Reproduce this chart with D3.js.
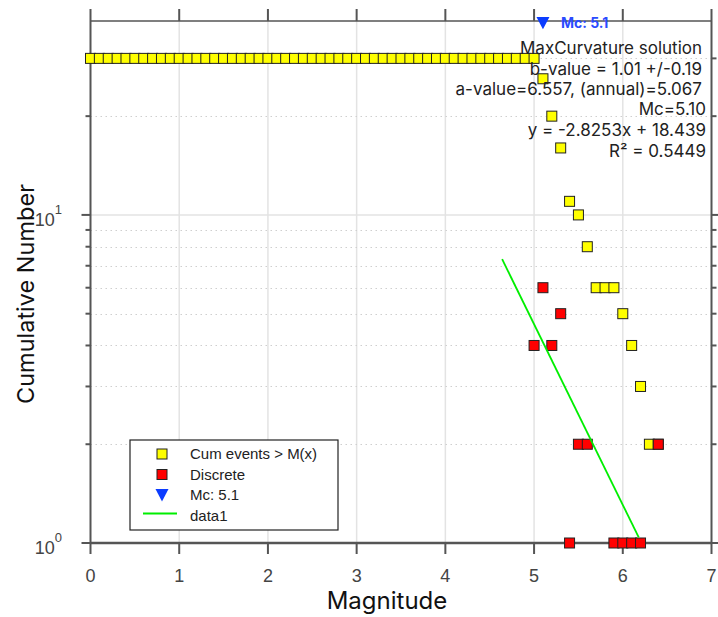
<!DOCTYPE html>
<html>
<head>
<meta charset="utf-8">
<script src="https://cdn.jsdelivr.net/npm/d3@7"></script>
<style>
  body { margin: 0; background: #fff; }
  svg { display: block; }
</style>
</head>
<body>
<div id="container"></div>
<script>
// cumulative number of events with magnitude >= M
const cumMag = [0.0, 0.1, 0.2, 0.3, 0.4, 0.5, 0.6, 0.7, 0.8, 0.9,
  1.0, 1.1, 1.2, 1.3, 1.4, 1.5, 1.6, 1.7, 1.8, 1.9,
  2.0, 2.1, 2.2, 2.3, 2.4, 2.5, 2.6, 2.7, 2.8, 2.9,
  3.0, 3.1, 3.2, 3.3, 3.4, 3.5, 3.6, 3.7, 3.8, 3.9,
  4.0, 4.1, 4.2, 4.3, 4.4, 4.5, 4.6, 4.7, 4.8, 4.9,
  5.0, 5.1, 5.2, 5.3, 5.4, 5.5, 5.6, 5.7, 5.8, 5.9,
  6.0, 6.1, 6.2, 6.3, 6.4];
const cumN = [30, 30, 30, 30, 30, 30, 30, 30, 30, 30,
  30, 30, 30, 30, 30, 30, 30, 30, 30, 30,
  30, 30, 30, 30, 30, 30, 30, 30, 30, 30,
  30, 30, 30, 30, 30, 30, 30, 30, 30, 30,
  30, 30, 30, 30, 30, 30, 30, 30, 30, 30,
  30, 26, 20, 16, 11, 10, 8, 6, 6, 6,
  5, 4, 3, 2, 2];

// discrete counts per magnitude bin (zero bins are not drawn on log axis)
const discMag = [5.0, 5.1, 5.2, 5.3, 5.4, 5.5, 5.6, 5.9, 6.0, 6.1, 6.2, 6.4];
const discN = [4, 6, 4, 5, 1, 2, 2, 1, 1, 1, 1, 2];

// magnitude of completeness marker
const mc = 5.1;
const mcY = 38.5;

// fitted line end points (data1)
const fitM = [4.64, 6.18];
const fitN = [7.33, 1.04];

const xTicks = [0, 1, 2, 3, 4, 5, 6, 7];
const yMajor = [1, 10];
const yMinor = [2, 3, 4, 5, 6, 7, 8, 9, 20, 30];

const infoA = ["MaxCurvature solution", "b-value = 1.01 +/-0.19", "a-value=6.557, (annual)=5.067"];
const infoB = ["Mc=5.10", "y = -2.8253x + 18.439", "R\u00b2 = 0.5449"];

const legendLabels = ["Cum events > M(x)", "Discrete", "Mc: 5.1", "data1"];

const w = 718;
const h = 617;
const box = { left: 90.5, right: 711.5, top: 21, bottom: 543 };

const x = d3.scaleLinear().domain([0, 7]).range([box.left, box.right]);
const y = d3.scaleLog().domain([1, 39]).range([box.bottom, box.top]);

const svg = d3.select("#container").append("svg")
  .attr("width", w).attr("height", h);

// grid
const grid = svg.append("g");
grid.selectAll(".vg").data(xTicks.slice(1, -1)).enter().append("line")
  .attr("x1", (d) => x(d)).attr("x2", (d) => x(d))
  .attr("y1", box.top).attr("y2", box.bottom)
  .attr("stroke", "#e3e3e3").attr("stroke-width", 1.5);
grid.selectAll(".hg").data([10]).enter().append("line")
  .attr("x1", box.left).attr("x2", box.right)
  .attr("y1", (d) => y(d)).attr("y2", (d) => y(d))
  .attr("stroke", "#e3e3e3").attr("stroke-width", 1.5);
grid.selectAll(".hm").data(yMinor).enter().append("line")
  .attr("x1", box.left).attr("x2", box.right)
  .attr("y1", (d) => Math.round(y(d)) + 0.5).attr("y2", (d) => Math.round(y(d)) + 0.5)
  .attr("stroke", "#cfcfcf").attr("stroke-width", 1)
  .attr("stroke-dasharray", "1.5,3.5");

// axes box and ticks
const axisColor = "#555";
const ax = svg.append("g").attr("stroke", axisColor);
ax.append("line").attr("x1", box.left).attr("x2", box.right)
  .attr("y1", box.bottom).attr("y2", box.bottom).attr("stroke-width", 2.5);
ax.append("line").attr("x1", box.left).attr("x2", box.right)
  .attr("y1", box.top).attr("y2", box.top).attr("stroke-width", 1.5);
ax.append("line").attr("x1", box.left).attr("x2", box.left)
  .attr("y1", box.top).attr("y2", box.bottom).attr("stroke-width", 2);
ax.append("line").attr("x1", box.right).attr("x2", box.right)
  .attr("y1", box.top).attr("y2", box.bottom).attr("stroke-width", 2);

xTicks.forEach((t) => {
  ax.append("line").attr("x1", x(t)).attr("x2", x(t))
    .attr("y1", box.bottom).attr("y2", box.bottom + 11).attr("stroke-width", 2);
  ax.append("line").attr("x1", x(t)).attr("x2", x(t))
    .attr("y1", box.top).attr("y2", box.top - 12).attr("stroke-width", 2);
});
yMajor.concat(yMinor).forEach((t) => {
  const len = yMajor.includes(t) ? 9 : 5;
  ax.append("line").attr("x1", box.left - len).attr("x2", box.left)
    .attr("y1", y(t)).attr("y2", y(t)).attr("stroke-width", 2);
  ax.append("line").attr("x1", box.right).attr("x2", box.right + len)
    .attr("y1", y(t)).attr("y2", y(t)).attr("stroke-width", 2);
});

// tick labels
const tickFont = "'Liberation Sans', Arial, sans-serif";
svg.append("g").selectAll("text").data(xTicks).enter().append("text")
  .attr("x", (d) => x(d)).attr("y", 582)
  .attr("text-anchor", "middle")
  .attr("font-family", tickFont).attr("font-size", 18).attr("fill", "#444")
  .text((d) => d);

yMajor.forEach((t, i) => {
  const tx = svg.append("text")
    .attr("x", 62).attr("y", y(t) + 11)
    .attr("text-anchor", "end")
    .attr("font-family", tickFont).attr("font-size", 18).attr("fill", "#444");
  tx.append("tspan").text("10");
  tx.append("tspan").attr("dy", -12).attr("font-size", 13).text(i);
});

// axis titles
const labFont = "Inter, Roboto, sans-serif";
svg.append("text").attr("x", 387).attr("y", 609)
  .attr("text-anchor", "middle").attr("font-family", labFont)
  .attr("font-size", 24).attr("fill", "#111").text("Magnitude");
svg.append("text").attr("transform", "translate(34,294) rotate(-90)")
  .attr("text-anchor", "middle").attr("font-family", labFont)
  .attr("font-size", 23.5).attr("fill", "#111").text("Cumulative Number");

// markers
const sq = 10;
svg.append("g").selectAll("rect").data(cumMag).enter().append("rect")
  .attr("x", (d) => x(d) - sq / 2)
  .attr("y", (d, i) => y(cumN[i]) - sq / 2)
  .attr("width", sq).attr("height", sq)
  .attr("fill", "#ffff00").attr("stroke", "#222").attr("stroke-width", 1);

svg.append("g").selectAll("rect").data(discMag).enter().append("rect")
  .attr("x", (d) => x(d) - sq / 2)
  .attr("y", (d, i) => y(discN[i]) - sq / 2)
  .attr("width", sq).attr("height", sq)
  .attr("fill", "#ff0000").attr("stroke", "#222").attr("stroke-width", 1);

const tri = (cx, cy, s) => `M${cx - s / 2},${cy - s / 2.2}L${cx + s / 2},${cy - s / 2.2}L${cx},${cy + s / 2}Z`;
svg.append("path").attr("d", tri(x(mc), y(mcY), 13)).attr("fill", "#0b3cff");
svg.append("text").attr("x", x(mc) + 18).attr("y", y(mcY) + 5)
  .attr("font-family", labFont).attr("font-size", 14).attr("font-weight", "bold")
  .attr("fill", "#2a4bff").text("Mc: " + mc);

// fitted line
const line = d3.line().x((d) => x(d)).y((d, i) => y(fitN[i]));
svg.append("path").datum(fitM).attr("d", line)
  .attr("fill", "none").attr("stroke", "#00ee00").attr("stroke-width", 1.8);

// info text
const info = svg.append("g").attr("font-family", labFont).attr("font-size", 17)
  .attr("fill", "#222").attr("text-anchor", "end");
info.selectAll(".a").data(infoA).enter().append("text")
  .attr("x", 702).attr("y", (d, i) => 54 + i * 20.5).text((d) => d);
info.selectAll(".b").data(infoB).enter().append("text")
  .attr("x", 706).attr("y", (d, i) => 115 + i * 21).text((d) => d);

// legend
const lg = svg.append("g");
lg.append("rect").attr("x", 130).attr("y", 440).attr("width", 208).attr("height", 90)
  .attr("fill", "#fff").attr("stroke", "#222").attr("stroke-width", 1.2);
const rowY = (i) => 454 + i * 20.5;
lg.append("rect").attr("x", 157).attr("y", rowY(0) - 5).attr("width", 10).attr("height", 10)
  .attr("fill", "#ffff00").attr("stroke", "#222");
lg.append("rect").attr("x", 157).attr("y", rowY(1) - 5).attr("width", 10).attr("height", 10)
  .attr("fill", "#ff0000").attr("stroke", "#222");
lg.append("path").attr("d", tri(162, rowY(2), 13)).attr("fill", "#0b3cff");
lg.append("line").attr("x1", 143).attr("x2", 177).attr("y1", rowY(3) - 2).attr("y2", rowY(3) - 2)
  .attr("stroke", "#00ee00").attr("stroke-width", 1.8);
lg.selectAll("text").data(legendLabels).enter().append("text")
  .attr("x", 190).attr("y", (d, i) => rowY(i) + 5)
  .attr("font-family", tickFont).attr("font-size", 15).attr("fill", "#222")
  .text((d) => d);
</script>
</body>
</html>
